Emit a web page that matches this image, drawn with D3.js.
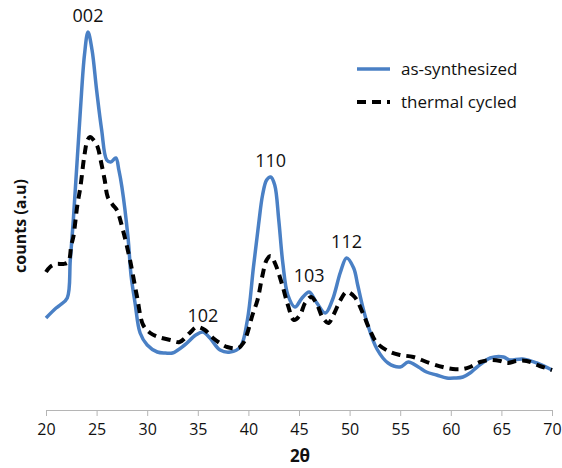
<!DOCTYPE html>
<html>
<head>
<meta charset="utf-8">
<script src="https://cdn.jsdelivr.net/npm/d3@7"></script>
<style>
  body { margin: 0; background: #fff; }
  text { font-family: "Open Sans", Lato, sans-serif; fill: #111; }
</style>
</head>
<body>
<svg width="562" height="468"></svg>
<script>
	// as-synthesized pattern (2theta, counts)
	const asTheta = [20.0,21.0,21.4,22.1,22.4,22.7,23.4,23.8,24.15,24.55,25.0,25.5,26.0,26.4,26.9,27.2,27.5,28.1,28.4,28.8,29.3,30.0,31.0,31.8,32.5,33.7,34.8,35.5,36.2,37.2,38.2,39.2,39.9,40.5,41.0,41.4,41.8,42.2,42.6,43.0,43.4,43.9,44.6,45.3,46.0,46.7,47.6,48.3,49.1,49.7,50.4,50.8,51.3,51.8,52.7,53.8,55.0,55.8,56.8,57.6,58.6,59.6,60.4,61.2,61.9,62.6,63.9,65.2,65.8,67.1,68.5,70.0];
	const asCounts = [920,1020,1050,1120,1500,1900,3000,3550,3780,3600,3200,2800,2500,2480,2520,2400,2230,1730,1350,1070,770,650,580,570,570,650,750,780,720,600,580,630,900,1430,1850,2150,2300,2330,2250,1900,1470,1150,1030,1120,1180,1080,970,1100,1380,1520,1420,1250,1030,850,610,470,430,480,430,380,350,320,320,330,370,430,520,530,500,510,470,400];

	// thermal cycled pattern
	const tcTheta = [20.0,20.4,21.0,21.7,22.2,22.5,22.7,23.1,23.4,23.8,24.1,24.35,24.7,25.1,25.4,25.8,26.1,26.6,27.0,27.6,28.3,29.0,29.6,30.3,31.1,32.3,33.2,34.2,34.9,35.7,36.5,37.9,39.0,39.5,39.9,40.4,40.9,41.4,41.8,42.2,42.7,43.4,43.9,44.5,45.1,45.6,46.2,46.8,47.3,47.9,48.4,49.1,49.7,50.5,51.3,52.0,52.7,54.0,55.0,56.3,57.9,59.2,60.2,61.2,61.9,62.9,63.9,64.9,65.6,66.5,67.5,68.8,70.0];
	const tcCounts = [1380,1430,1460,1460,1480,1650,1730,2050,2230,2550,2700,2730,2700,2630,2500,2300,2130,2050,2000,1800,1500,1130,850,770,730,700,680,770,830,800,720,630,620,670,770,950,1100,1350,1500,1540,1450,1230,1050,900,950,1070,1130,1050,930,870,950,1100,1180,1130,970,800,670,580,550,530,470,430,410,410,430,480,500,490,470,490,490,440,400];

	// peak labels
	const peakNames = ['002','102','110','103','112'];
	const peakTheta = [24.15,35.5,42.2,46.0,49.7];
	const peakCounts = [3780,780,2330,1180,1520];

	const xTicks = [20,25,30,35,40,45,50,55,60,65,70];
	const seriesNames = ['as-synthesized','thermal cycled'];

	let svg = d3.select('svg');
	let x = d3.scaleLinear().domain([20, 70]).range([46, 552]);
	let y = d3.scaleLinear().domain([0, 4100]).range([410, 0]);

	// x axis
	let xAxis = svg.append('g')
		.attr('transform', 'translate(0,410)')
		.call(d3.axisBottom(x).tickValues(xTicks).tickSize(6).tickSizeOuter(0).tickPadding(8));
	xAxis.select('.domain').attr('stroke', '#b5b5b5');
	xAxis.selectAll('.tick line').attr('stroke', '#b5b5b5');
	xAxis.selectAll('.tick text').attr('font-size', 16).attr('font-family', '"Open Sans", sans-serif').attr('fill', '#111');

	svg.append('text')
		.attr('x', 300).attr('y', 462)
		.attr('text-anchor', 'middle')
		.attr('font-size', 17).attr('font-weight', 'bold')
		.text('2θ');

	svg.append('text')
		.attr('transform', 'translate(26,226) rotate(-90)')
		.attr('text-anchor', 'middle')
		.attr('font-size', 16).attr('font-weight', 'bold')
		.text('counts (a.u)');

	let line = d3.line()
		.x(d => x(d[0]))
		.y(d => y(d[1]))
		.curve(d3.curveCatmullRom.alpha(0.5));

	svg.append('path')
		.datum(d3.zip(asTheta, asCounts))
		.attr('d', line)
		.attr('fill', 'none')
		.attr('stroke', '#4a80c5')
		.attr('stroke-width', 3.5)
		.attr('stroke-linejoin', 'round');

	svg.append('path')
		.datum(d3.zip(tcTheta, tcCounts))
		.attr('d', line)
		.attr('fill', 'none')
		.attr('stroke', '#000')
		.attr('stroke-width', 4)
		.attr('stroke-dasharray', '9,6');

	// peak labels
	svg.selectAll('.peak')
		.data(d3.range(peakNames.length))
		.enter().append('text')
		.attr('class', 'peak')
		.attr('x', i => x(peakTheta[i]))
		.attr('y', i => y(peakCounts[i]) - 10)
		.attr('text-anchor', 'middle')
		.attr('font-size', 18)
		.text(i => peakNames[i]);

	// legend
	let legend = svg.append('g').attr('transform', 'translate(357,69)');
	legend.append('line').attr('x1', 0).attr('x2', 33).attr('y1', 0).attr('y2', 0)
		.attr('stroke', '#4a80c5').attr('stroke-width', 3.5);
	legend.append('line').attr('x1', 0).attr('x2', 33).attr('y1', 33).attr('y2', 33)
		.attr('stroke', '#000').attr('stroke-width', 4).attr('stroke-dasharray', '9,6');
	legend.selectAll('.lab')
		.data(seriesNames)
		.enter().append('text')
		.attr('x', 44)
		.attr('y', (d, i) => i * 33 + 6)
		.attr('font-size', 17)
		.text(d => d);
</script>
</body>
</html>
